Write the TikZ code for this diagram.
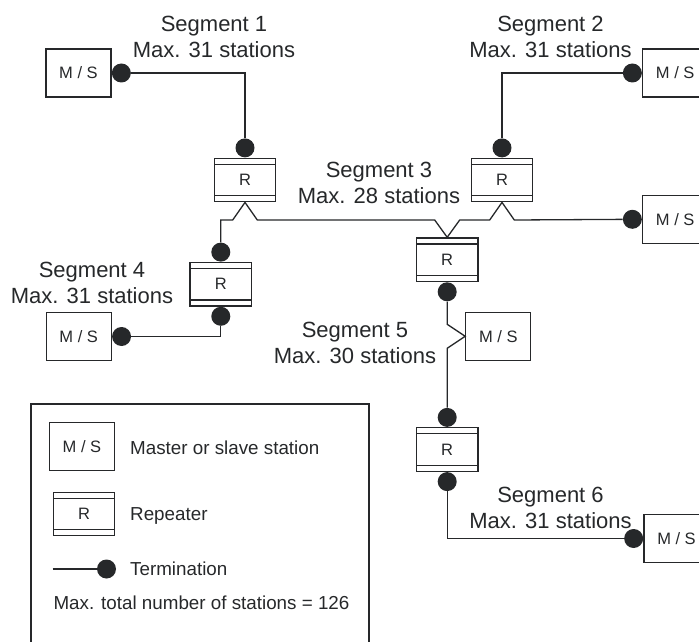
\documentclass[tikz,border=0pt]{standalone}
\usepackage{fontspec}
\setmainfont{Liberation Sans}
\usetikzlibrary{positioning,calc}
\definecolor{ink}{RGB}{38,40,42}
\begin{document}
\begin{tikzpicture}[x=1pt,y=-1pt,
  line/.style={draw=ink,line width=1.3pt},
  ms/.style={rectangle,draw=ink,text=ink,line width=1.3pt,minimum width=65pt,minimum height=48pt,inner sep=0pt,font=\fontsize{16.5}{18}\selectfont},
  rep/.style={rectangle,draw=ink,text=ink,line width=1.3pt,minimum width=61.5pt,minimum height=43.5pt,inner sep=0pt,font=\fontsize{16.5}{18}\selectfont,
    path picture={\draw[ink,line width=1.3pt]
      ([yshift=-6pt]path picture bounding box.north west) -- ([yshift=-6pt]path picture bounding box.north east)
      ([yshift=6pt]path picture bounding box.south west) -- ([yshift=6pt]path picture bounding box.south east);}},
  dot/.style={circle,fill=ink,inner sep=0pt,minimum size=19pt},
  seglabel/.style={align=center,inner sep=0pt,text=ink,font=\fontsize{22}{26}\selectfont},
  legtext/.style={anchor=base west,inner sep=0pt,text=ink,font=\fontsize{18.8}{22}\selectfont}]
\clip (0,0) rectangle (699,642);
% stations
\node[ms] (ms1) at (78.5,73) {M / S};
\node[ms] (ms2) at (675.2,73) {M / S};
\node[ms] (ms3) at (675.2,219.3) {M / S};
\node[ms] (ms4) at (78.7,336.5) {M / S};
\node[ms] (ms5) at (498.3,336.3) {M / S};
\node[ms] (ms6) at (676.5,538.5) {M / S};
% repeaters
\node[rep] (r1) at (245,180) {R};
\node[rep] (r2) at (502,180) {R};
\node[rep] (r3) at (447.2,259.7) {R};
\node[rep] (r4) at (220.8,284.2) {R};
\node[rep] (r5) at (447.2,449.5) {R};
% terminations
\node[dot,right=0pt of ms1] (d1) {};
\node[dot,above=0pt of r1] (d2) {};
\node[dot,above=0pt of r2] (d6) {};
\node[dot,left=0pt of ms2] (d7) {};
\node[dot,left=0pt of ms3] (d8) {};
\node[dot,above=0pt of r4] (d3) {};
\node[dot,below=0pt of r4] (d4) {};
\node[dot,right=0pt of ms4] (d5) {};
\node[dot,below=0pt of r3] (d9) {};
\node[dot,above=0pt of r5] (d10) {};
\node[dot,below=0pt of r5] (d11) {};
\node[dot,left=0pt of ms6] (d12) {};
% cables
\draw[line] (d1) -| (d2);
\draw[line] (d7) -| (d6);
\coordinate (bus) at ($(r1.south)+(0,17.6)$);
\draw[line] (d3) |- ($(bus)+(-12.3,0)$) -- (r1.south) -- ($(bus)+(12.3,0)$)
  -- ($(r3.north|-bus)+(-12.5,0)$) -- (r3.north) -- ($(r3.north|-bus)+(12.5,0)$)
  -- ($(r2.south|-bus)+(-12.3,0)$) -- (r2.south) -- ($(r2.south|-bus)+(12.3,0)$) -- (d8);
\draw[line] (d4) |- (d5);
\draw[line] (d9) -- ($(d9|-ms5.west)+(0,-12)$) -- (ms5.west) -- ($(d9|-ms5.west)+(0,12)$) -- (d10);
\draw[line] (d11) |- (d12);
% segment labels
\node[seglabel] (s1) at (214,36.8) {Segment 1\\Max. 31 stations};
\node[seglabel] (s2) at (550.5,36.8) {Segment 2\\Max. 31 stations};
\node[seglabel] (s3) at (379,183.3) {Segment 3\\Max. 28 stations};
\node[seglabel] (s4) at (92,282.5) {Segment 4\\Max. 31 stations};
\node[seglabel] (s5) at (355,342.5) {Segment 5\\Max. 30 stations};
\node[seglabel] (s6) at (550.5,508.3) {Segment 6\\Max. 31 stations};
% legend
\draw[line] (31,404) rectangle (369,700);
\node[ms] (lms) at (82,446.3) {M / S};
\node[rep] (lrep) at (84,514) {R};
\node[dot] (ldot) at (106.5,569) {};
\coordinate (lstart) at (52.7,569);
\draw[line] (lstart) -- (ldot);
\node[legtext] (t1) at (130,454) {Master or slave station};
\node[legtext] (t2) at (130,520.7) {Repeater};
\node[legtext] (t3) at (130,575.7) {Termination};
\node[legtext] (t4) at (53.3,609) {Max. total number of stations = 126};
\end{tikzpicture}
\end{document}
